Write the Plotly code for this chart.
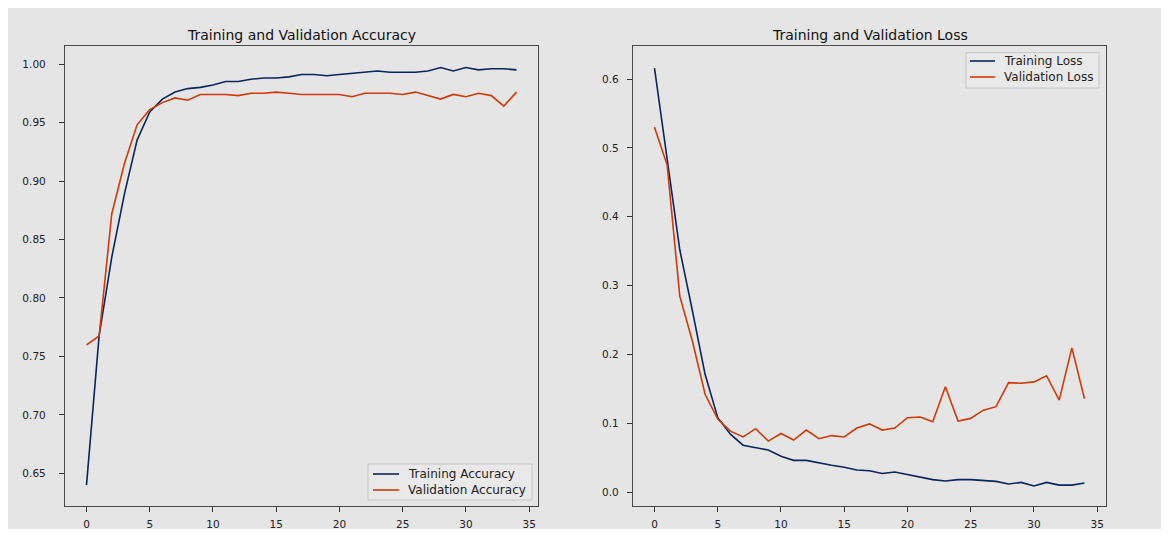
import plotly.graph_objects as go

epochs = list(range(35))

train_acc = [0.640, 0.768, 0.835, 0.889, 0.935, 0.959, 0.970, 0.976, 0.979, 0.980,
             0.982, 0.985, 0.985, 0.987, 0.988, 0.988, 0.989, 0.991, 0.991, 0.990,
             0.991, 0.992, 0.993, 0.994, 0.993, 0.993, 0.993, 0.994, 0.997, 0.994,
             0.997, 0.995, 0.996, 0.996, 0.995]
val_acc = [0.760, 0.7675, 0.872, 0.915, 0.948, 0.961, 0.967, 0.971, 0.969, 0.974,
           0.974, 0.974, 0.973, 0.975, 0.975, 0.976, 0.975, 0.974, 0.974, 0.974,
           0.974, 0.972, 0.975, 0.975, 0.975, 0.974, 0.976, 0.973, 0.970, 0.974,
           0.972, 0.975, 0.973, 0.964, 0.976]

train_loss = [0.616, 0.482, 0.352, 0.263, 0.171, 0.108, 0.084, 0.068, 0.064, 0.061,
              0.052, 0.046, 0.046, 0.042, 0.039, 0.036, 0.032, 0.031, 0.027, 0.029,
              0.025, 0.022, 0.018, 0.016, 0.018, 0.018, 0.017, 0.0155, 0.0116, 0.014,
              0.0087, 0.014, 0.010, 0.010, 0.013]
val_loss = [0.530, 0.475, 0.2845, 0.219, 0.142, 0.106, 0.0885, 0.080, 0.092, 0.074,
            0.085, 0.0755, 0.090, 0.0774, 0.082, 0.080, 0.093, 0.099, 0.090, 0.093,
            0.108, 0.109, 0.102, 0.153, 0.103, 0.107, 0.119, 0.124, 0.159, 0.158,
            0.160, 0.169, 0.1335, 0.2095, 0.1355]

x_ticks = [0, 5, 10, 15, 20, 25, 30, 35]
acc_ticks = [0.65, 0.70, 0.75, 0.80, 0.85, 0.90, 0.95, 1.00]
loss_ticks = [0.0, 0.1, 0.2, 0.3, 0.4, 0.5, 0.6]

acc_names = ["Training Accuracy", "Validation Accuracy"]
loss_names = ["Training Loss", "Validation Loss"]

TRAIN_C = "#08275c"
VAL_C = "#cf3a06"
BG = "#e5e5e5"
FONT = "DejaVu Sans"

W, H = 1153, 521  # page body margin of 8px gives the white frame


def px(x):
    return x / W


def py(y):
    return 1 - y / H


fig = go.Figure()
for ys, name, col, xa, ya in [
    (train_acc, acc_names[0], TRAIN_C, "x", "y"),
    (val_acc, acc_names[1], VAL_C, "x", "y"),
    (train_loss, loss_names[0], TRAIN_C, "x2", "y2"),
    (val_loss, loss_names[1], VAL_C, "x2", "y2"),
]:
    fig.add_trace(go.Scatter(x=epochs, y=ys, mode="lines", name=name,
                             line=dict(color=col, width=1.6), xaxis=xa, yaxis=ya,
                             showlegend=False))

axis_common = dict(showgrid=False, zeroline=False, showline=True, mirror=True,
                   linecolor="#4a4a4a", linewidth=1.3, ticks="outside", ticklen=5,
                   tickwidth=1, tickcolor="#333333",
                   tickfont=dict(family=FONT, size=10.5, color="#222222"))

shapes = []
annotations = []


def add_legend(box, line_x0, line_x1, text_x, rows, names, colors):
    x0, y0, x1, y1 = box
    shapes.append(dict(type="rect", xref="paper", yref="paper",
                       x0=px(x0), x1=px(x1), y0=py(y1), y1=py(y0),
                       fillcolor="#e9e9e9", line=dict(color="#c6c6c6", width=1),
                       layer="above"))
    for ry, name, col in zip(rows, names, colors):
        shapes.append(dict(type="line", xref="paper", yref="paper",
                           x0=px(line_x0), x1=px(line_x1), y0=py(ry), y1=py(ry),
                           line=dict(color=col, width=1.6), layer="above"))
        annotations.append(dict(text=name, xref="paper", yref="paper",
                                x=px(text_x), y=py(ry), xanchor="left",
                                yanchor="middle", showarrow=False,
                                font=dict(family=FONT, size=12, color="#222222")))


add_legend((360, 456, 524, 492), 365, 391, 398, [466, 482], acc_names, [TRAIN_C, VAL_C])
add_legend((958, 44.7, 1091, 80), 962, 987, 994, [53, 69], loss_names, [TRAIN_C, VAL_C])

annotations += [
    dict(text="Training and Validation Accuracy", xref="paper", yref="paper",
         x=px(293.5), y=py(27), xanchor="center", yanchor="middle", showarrow=False,
         font=dict(family=FONT, size=14, color="#111111")),
    dict(text="Training and Validation Loss", xref="paper", yref="paper",
         x=px(861.5), y=py(27), xanchor="center", yanchor="middle", showarrow=False,
         font=dict(family=FONT, size=14, color="#111111")),
]

yb, yt = 498, 38
fig.update_layout(
    width=W, height=H,
    margin=dict(l=0, r=0, t=0, b=0),
    paper_bgcolor=BG, plot_bgcolor=BG,
    font=dict(family=FONT, color="#222222"),
    xaxis=dict(domain=[px(57), px(530)], range=[-1.7, 35.7], tickvals=x_ticks,
               anchor="y", ticklabelstandoff=3, **axis_common),
    yaxis=dict(domain=[py(yb), py(yt)], range=[0.6222, 1.0154], tickvals=acc_ticks,
               tickformat=".2f", anchor="x", ticklabelstandoff=11, **axis_common),
    xaxis2=dict(domain=[px(625), px(1098)], range=[-1.7, 35.7], tickvals=x_ticks,
                anchor="y2", ticklabelstandoff=3, **axis_common),
    yaxis2=dict(domain=[py(yb), py(yt)], range=[-0.0203, 0.648], tickvals=loss_ticks,
                tickformat=".1f", anchor="x2", ticklabelstandoff=6, **axis_common),
    showlegend=False,
    shapes=shapes,
    annotations=annotations,
)

fig.write_html("out.html")
